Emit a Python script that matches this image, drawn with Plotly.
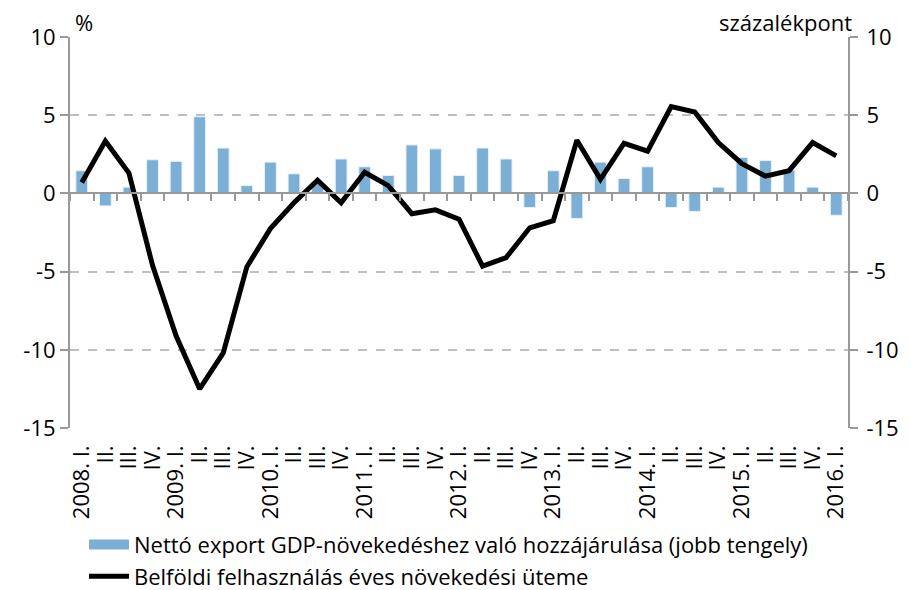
import plotly.graph_objects as go

years = [2008, 2009, 2010, 2011, 2012, 2013, 2014, 2015, 2016]
quarters = ["I.", "II.", "III.", "IV."]

# Net export contribution to GDP growth (right axis, percentage points)
net_export = [1.45, -0.8, 0.4, 2.15, 2.05, 4.9, 2.9, 0.5,
              2.0, 1.25, 0.7, 2.2, 1.7, 1.15, 3.1, 2.85,
              1.15, 2.9, 2.2, -0.9, 1.45, -1.6, 2.0, 0.95,
              1.7, -0.9, -1.15, 0.4, 2.3, 2.1, 1.5, 0.4,
              -1.4]
# Domestic absorption annual growth rate (left axis, %)
domestic = [0.7, 3.35, 1.3, -4.6, -9.1, -12.5, -10.2, -4.7,
            -2.25, -0.6, 0.85, -0.6, 1.35, 0.5, -1.3, -1.05,
            -1.65, -4.65, -4.1, -2.2, -1.75, 3.4, 0.9, 3.2,
            2.7, 5.55, 5.2, 3.25, 1.9, 1.1, 1.45, 3.25,
            2.4]
y_ticks = [-15, -10, -5, 0, 5, 10]
y_tick_text = ["-15", "-10", "-5", "0", "5", "10"]

keys, labels = [], []
for y in years:
    for i, q in enumerate(quarters):
        if len(keys) == len(net_export):
            break
        keys.append(f"{y}Q{i+1}")
        labels.append(f"{y}. {q}" if i == 0 else q)

FONT = "Open Sans"
GRAY = "#999999"
BLUE = "#7bafd5"
FS = 22
BAR_NAME = "Nettó export GDP-növekedéshez való hozzájárulása (jobb tengely)"
LINE_NAME = "Belföldi felhasználás éves növekedési üteme"

fig = go.Figure()
fig.add_trace(go.Bar(
    x=keys, y=net_export, xaxis="x", yaxis="y", name=BAR_NAME,
    showlegend=False,
    marker=dict(color=BLUE, line=dict(color="#e8f1f8", width=1)),
    width=0.5,
))
# legend swatch for the bars (wide rectangle like the original)
fig.add_trace(go.Scatter(
    x=[None], y=[None], xaxis="x", yaxis="y", mode="lines", name=BAR_NAME,
    line=dict(color=BLUE, width=12),
))
fig.add_trace(go.Scatter(
    x=keys, y=domestic, xaxis="x2", yaxis="y2", mode="lines",
    name=LINE_NAME, line=dict(color="black", width=5),
))

yax_common = dict(range=[-15, 10], tickmode="array", tickvals=y_ticks,
                  ticktext=y_tick_text, ticks="outside", ticklen=8,
                  tickcolor=GRAY, tickwidth=2, showline=True, linecolor=GRAY,
                  linewidth=2, zeroline=False, automargin=False,
                  tickfont=dict(size=FS))

fig.update_layout(
    width=903, height=582,
    margin=dict(l=62, r=63, t=29, b=162, autoexpand=False),
    plot_bgcolor="white", paper_bgcolor="white",
    font=dict(family=FONT, size=FS, color="black"),
    showlegend=True,
    legend=dict(x=0.018, xanchor="left", y=-0.245, yanchor="top",
                orientation="v", font=dict(size=22), tracegroupgap=0,
                itemwidth=40, bgcolor="rgba(0,0,0,0)"),
    bargap=0.5,
    xaxis=dict(type="category", categoryorder="array", categoryarray=keys,
               range=[-0.5, len(keys) - 0.5],
               tickmode="array", tickvals=keys, ticktext=labels,
               tickangle=-90, ticks="", showline=False, showgrid=False,
               zeroline=False, automargin=False, ticklabelstandoff=12,
               tickfont=dict(size=FS)),
    xaxis2=dict(type="category", categoryorder="array", categoryarray=keys,
                range=[-0.5, len(keys) - 0.5],
                overlaying="x", anchor="free", position=0.6,
                showticklabels=False, ticks="outside", ticklen=7,
                tickcolor=GRAY, tickwidth=2, tickson="boundaries",
                showline=True, linecolor=GRAY, linewidth=2,
                showgrid=False, zeroline=False, automargin=False),
    yaxis=dict(side="right", showgrid=True, gridcolor="#bfbfbf",
               griddash="dash", gridwidth=1.5, ticklabelstandoff=4,
               **yax_common),
    yaxis2=dict(side="left", overlaying="y", showgrid=False,
                ticklabelstandoff=0, **yax_common),
    annotations=[
        dict(text="%", xref="paper", yref="paper", x=0.004, y=1.0,
             xanchor="left", yanchor="bottom", showarrow=False, yshift=-2,
             font=dict(size=FS)),
        dict(text="százalékpont", xref="paper", yref="paper", x=1.008, y=1.0,
             xanchor="right", yanchor="bottom", showarrow=False, yshift=-2,
             font=dict(size=FS)),
    ],
)

fig.write_html("out.html")
